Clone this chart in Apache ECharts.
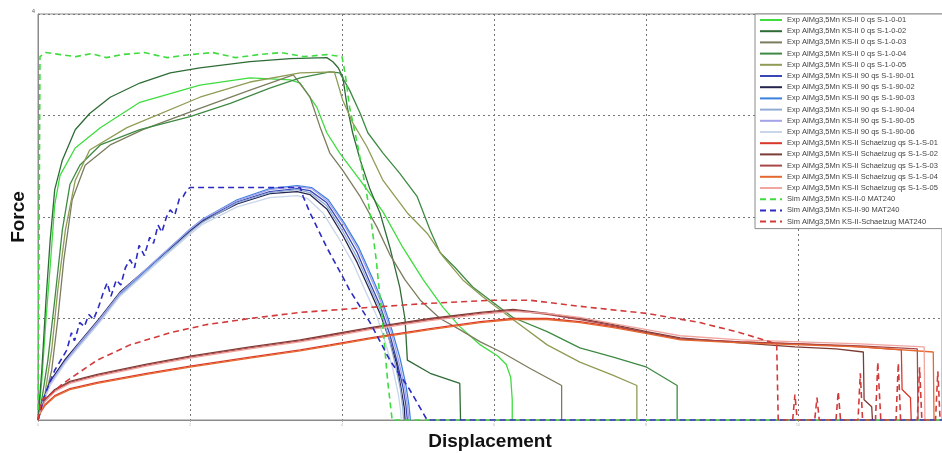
<!DOCTYPE html>
<html>
<head>
<meta charset="utf-8">
<script src="https://cdn.jsdelivr.net/npm/echarts@6/dist/echarts.min.js"></script>
<style>
  html, body { margin: 0; padding: 0; background: #fff; }
  #chart { width: 942px; height: 453px; }
</style>
</head>
<body>
<div id="chart"></div>
<script>
// legend names, in drawing order
const names = [
  'Exp AlMg3,5Mn KS-II 0 qs S-1-0-01',
  'Exp AlMg3,5Mn KS-II 0 qs S-1-0-02',
  'Exp AlMg3,5Mn KS-II 0 qs S-1-0-03',
  'Exp AlMg3,5Mn KS-II 0 qs S-1-0-04',
  'Exp AlMg3,5Mn KS-II 0 qs S-1-0-05',
  'Exp AlMg3,5Mn KS-II 90 qs S-1-90-01',
  'Exp AlMg3,5Mn KS-II 90 qs S-1-90-02',
  'Exp AlMg3,5Mn KS-II 90 qs S-1-90-03',
  'Exp AlMg3,5Mn KS-II 90 qs S-1-90-04',
  'Exp AlMg3,5Mn KS-II 90 qs S-1-90-05',
  'Exp AlMg3,5Mn KS-II 90 qs S-1-90-06',
  'Exp AlMg3,5Mn KS-II Schaelzug qs S-1-S-01',
  'Exp AlMg3,5Mn KS-II Schaelzug qs S-1-S-02',
  'Exp AlMg3,5Mn KS-II Schaelzug qs S-1-S-03',
  'Exp AlMg3,5Mn KS-II Schaelzug qs S-1-S-04',
  'Exp AlMg3,5Mn KS-II Schaelzug qs S-1-S-05',
  'Sim AlMg3,5Mn KS-II-0 MAT240',
  'Sim AlMg3,5Mn KS-II-90 MAT240',
  'Sim AlMg3,5Mn KS-II-Schaelzug MAT240'
];

const colors = [
  '#3fdc3f', '#2e6b35', '#7c7c5e', '#3f8a43', '#8e9c55',
  '#3a46b4', '#25254f', '#3c80de', '#91acd4', '#a3a3ea', '#c9d5ea',
  '#d9382b', '#7b3b36', '#a84848', '#e5682f', '#f0a5a0',
  '#3fdc3f', '#2b2bc4', '#d23a3a'
];

// 0 deg specimens
const exp0_01 = [[0,0],[0.05,0.39],[0.105,0.99],[0.16,1.51],[0.22,2.12],[0.29,2.41],[0.49,2.68],[0.82,2.88],[1.34,3.13],[2.13,3.3],[2.79,3.37],[3.32,3.35],[3.45,3.32],[3.67,3.08],[3.8,2.83],[3.97,2.63],[4.24,2.36],[4.54,2.05],[4.8,1.7],[5.07,1.38],[5.33,1.11],[5.55,0.92],[5.82,0.74],[6.05,0.63],[6.16,0.55],[6.22,0.42],[6.24,0.2],[6.24,0]];
const exp0_02 = [[0,0],[0.05,0.49],[0.105,1.18],[0.16,1.77],[0.22,2.27],[0.32,2.56],[0.49,2.86],[0.68,3.02],[0.95,3.18],[1.34,3.32],[1.74,3.42],[2.13,3.47],[2.79,3.53],[3.32,3.56],[3.8,3.57],[3.88,3.53],[3.95,3.47],[4.01,3.38],[4.07,3.08],[4.14,2.83],[4.24,2.56],[4.37,2.27],[4.5,2.04],[4.63,1.7],[4.76,1.31],[4.83,0.99],[4.86,0.59],[5.16,0.46],[5.55,0.36],[5.56,0]];
const exp0_03 = [[0,0],[0.09,0.2],[0.18,0.49],[0.26,0.99],[0.34,1.58],[0.45,2.17],[0.62,2.51],[0.95,2.71],[1.38,2.86],[2.13,3.07],[2.79,3.25],[3.36,3.4],[3.58,3.18],[3.71,2.89],[3.84,2.63],[4.01,2.46],[4.24,2.2],[4.46,1.9],[4.63,1.63],[4.83,1.38],[5.03,1.18],[5.29,1.0],[5.55,0.89],[5.82,0.77],[6.12,0.66],[6.47,0.51],[6.89,0.34],[6.89,0]];
const exp0_04 = [[0,0],[0.05,0.2],[0.13,0.59],[0.22,1.18],[0.32,1.87],[0.42,2.32],[0.55,2.51],[0.82,2.71],[1.34,2.86],[2.0,2.99],[2.53,3.12],[3.05,3.27],[3.45,3.37],[3.84,3.43],[3.97,3.42],[4.1,3.25],[4.24,3.02],[4.34,2.83],[4.54,2.63],[4.76,2.43],[4.99,2.2],[5.16,1.87],[5.29,1.65],[5.49,1.5],[5.72,1.31],[5.95,1.18],[6.25,1.01],[6.7,0.87],[7.13,0.71],[7.57,0.62],[8.01,0.52],[8.41,0.34],[8.41,0]];
const exp0_05 = [[0,0],[0.09,0.25],[0.18,0.69],[0.26,1.28],[0.36,1.87],[0.49,2.36],[0.68,2.66],[1.17,2.88],[2.13,3.18],[2.79,3.33],[3.45,3.42],[3.9,3.43],[4.01,3.15],[4.14,2.93],[4.33,2.69],[4.54,2.36],[4.86,2.04],[5.12,1.84],[5.33,1.61],[5.59,1.38],[5.86,1.21],[6.25,0.99],[6.7,0.74],[7.13,0.57],[7.57,0.44],[7.88,0.34],[7.88,0]];

// 90 deg specimens
const exp90_01 = [[0,0],[0.05,0.15],[0.16,0.37],[0.36,0.59],[0.55,0.76],[0.82,1.0],[1.08,1.25],[1.57,1.58],[2.0,1.87],[2.17,1.97],[2.62,2.15],[3.05,2.25],[3.41,2.28],[3.58,2.26],[3.8,2.14],[4.01,1.9],[4.2,1.65],[4.37,1.35],[4.5,1.13],[4.63,0.84],[4.72,0.59],[4.8,0.33],[4.84,0.15],[4.86,0]];
const exp90_02 = [[0,0],[0.05,0.16],[0.16,0.38],[0.36,0.6],[0.55,0.77],[0.82,1.01],[1.08,1.26],[1.57,1.58],[2.0,1.86],[2.17,1.96],[2.62,2.13],[3.05,2.23],[3.41,2.25],[3.58,2.22],[3.8,2.08],[4.01,1.82],[4.2,1.55],[4.37,1.27],[4.5,1.05],[4.63,0.78],[4.72,0.55],[4.78,0.3],[4.82,0.12],[4.83,0]];
const exp90_03 = [[0,0],[0.05,0.15],[0.16,0.36],[0.36,0.58],[0.55,0.75],[0.82,0.99],[1.08,1.24],[1.57,1.58],[2.0,1.88],[2.17,1.98],[2.62,2.17],[3.05,2.28],[3.41,2.31],[3.6,2.29],[3.82,2.17],[4.03,1.94],[4.22,1.7],[4.4,1.4],[4.53,1.17],[4.66,0.88],[4.76,0.62],[4.84,0.35],[4.88,0.15],[4.9,0]];
const exp90_04 = [[0,0],[0.05,0.14],[0.16,0.35],[0.36,0.57],[0.55,0.74],[0.82,0.98],[1.08,1.23],[1.57,1.56],[2.0,1.85],[2.17,1.95],[2.62,2.14],[3.05,2.24],[3.41,2.27],[3.58,2.24],[3.8,2.11],[4.01,1.86],[4.2,1.6],[4.37,1.31],[4.5,1.09],[4.62,0.8],[4.7,0.55],[4.77,0.3],[4.8,0.12],[4.81,0]];
const exp90_05 = [[0,0],[0.05,0.15],[0.16,0.36],[0.36,0.58],[0.55,0.76],[0.82,1.0],[1.08,1.25],[1.57,1.59],[2.0,1.88],[2.17,1.98],[2.62,2.16],[3.05,2.27],[3.41,2.3],[3.6,2.28],[3.82,2.15],[4.03,1.92],[4.22,1.67],[4.39,1.38],[4.52,1.15],[4.65,0.86],[4.74,0.6],[4.82,0.34],[4.86,0.15],[4.88,0]];
const exp90_06 = [[0,0],[0.05,0.14],[0.16,0.34],[0.36,0.56],[0.55,0.73],[0.82,0.97],[1.08,1.22],[1.57,1.55],[2.0,1.83],[2.17,1.93],[2.62,2.1],[3.05,2.19],[3.41,2.21],[3.55,2.18],[3.75,2.04],[3.95,1.8],[4.15,1.54],[4.32,1.25],[4.46,1.02],[4.58,0.74],[4.67,0.5],[4.74,0.26],[4.77,0.1],[4.78,0]];

// peel test (Schaelzug) specimens
const expS_01 = [[0,0],[0.03,0.08],[0.09,0.15],[0.22,0.24],[0.42,0.31],[0.78,0.37],[1.43,0.46],[2.0,0.53],[2.79,0.62],[3.45,0.69],[3.84,0.74],[4.37,0.81],[5.16,0.9],[5.82,0.97],[6.25,1.0],[6.7,1.0],[7.13,0.97],[7.57,0.92],[8.01,0.86],[8.45,0.8],[9.24,0.77],[10.03,0.75],[10.82,0.72],[11.36,0.69],[11.37,0.3],[11.48,0.22],[11.49,0]];
const expS_02 = [[0,0],[0.03,0.1],[0.09,0.2],[0.22,0.3],[0.42,0.38],[0.78,0.45],[1.43,0.55],[2.0,0.63],[2.79,0.72],[3.45,0.79],[3.84,0.84],[4.37,0.91],[5.16,1.0],[5.82,1.06],[6.25,1.09],[6.7,1.05],[7.13,1.0],[7.57,0.94],[8.01,0.87],[8.45,0.81],[9.24,0.76],[9.96,0.72],[10.5,0.7],[10.86,0.67],[10.87,0.2],[10.97,0.13],[10.98,0]];
const expS_03 = [[0,0],[0.03,0.09],[0.09,0.19],[0.22,0.29],[0.42,0.37],[0.78,0.44],[1.43,0.54],[2.0,0.62],[2.79,0.71],[3.45,0.78],[3.84,0.83],[4.37,0.9],[5.16,0.99],[5.82,1.05],[6.25,1.08],[6.7,1.04],[7.13,0.99],[7.57,0.93],[8.01,0.86],[8.45,0.8],[9.24,0.77],[10.03,0.75],[10.82,0.73],[11.57,0.7],[11.58,0]];
const expS_04 = [[0,0],[0.03,0.07],[0.09,0.14],[0.22,0.23],[0.42,0.3],[0.78,0.36],[1.43,0.45],[2.0,0.52],[2.79,0.61],[3.45,0.68],[3.84,0.73],[4.37,0.8],[5.16,0.89],[5.82,0.96],[6.25,0.99],[6.7,0.99],[7.13,0.96],[7.57,0.91],[8.01,0.85],[8.45,0.79],[9.24,0.76],[10.03,0.74],[10.82,0.72],[11.78,0.67],[11.79,0]];
const expS_05 = [[0,0],[0.03,0.09],[0.09,0.18],[0.22,0.28],[0.42,0.36],[0.78,0.43],[1.43,0.53],[2.0,0.61],[2.79,0.7],[3.45,0.77],[3.84,0.82],[4.37,0.89],[5.16,0.98],[5.82,1.04],[6.25,1.07],[6.7,1.05],[7.13,1.01],[7.57,0.95],[8.01,0.89],[8.45,0.83],[9.24,0.79],[10.03,0.77],[10.82,0.75],[11.66,0.72],[11.67,0]];

// simulations
const sim0 = [[0,0],[0.01,1.2],[0.026,3.58],[0.1,3.62],[0.3,3.6],[0.5,3.58],[0.7,3.61],[0.9,3.57],[1.1,3.6],[1.4,3.62],[1.7,3.57],[2.0,3.6],[2.3,3.62],[2.6,3.57],[2.9,3.6],[3.2,3.62],[3.5,3.58],[3.8,3.6],[4.0,3.58],[4.04,3.42],[4.1,3.08],[4.2,2.73],[4.3,2.33],[4.37,2.04],[4.45,1.58],[4.53,0.99],[4.6,0.39],[4.66,0],[11.9,0]];
const sim90 = [[0,0],[0.09,0.25],[0.22,0.49],[0.38,0.69],[0.44,0.86],[0.48,0.78],[0.55,0.96],[0.61,0.92],[0.67,1.04],[0.73,0.99],[0.8,1.12],[0.86,1.26],[0.91,1.35],[0.96,1.22],[1.03,1.38],[1.09,1.33],[1.15,1.5],[1.21,1.58],[1.27,1.5],[1.33,1.72],[1.4,1.62],[1.47,1.8],[1.52,1.74],[1.58,1.92],[1.63,1.85],[1.69,2.0],[1.74,2.07],[1.8,2.02],[1.86,2.18],[1.91,2.2],[1.96,2.27],[2.0,2.29],[3.45,2.29],[3.49,2.2],[3.58,2.04],[3.8,1.7],[4.01,1.41],[4.1,1.28],[4.37,0.96],[4.63,0.59],[4.89,0.3],[5.12,0],[11.9,0]];
const simS = [[0,0],[0.05,0.2],[0.16,0.25],[0.33,0.36],[0.78,0.59],[1.21,0.74],[1.74,0.86],[2.22,0.94],[2.79,1.0],[3.45,1.06],[4.37,1.11],[5.16,1.15],[5.99,1.18],[6.47,1.18],[7.13,1.12],[8.01,1.05],[8.71,0.96],[9.24,0.86],[9.63,0.77],[9.72,0.74],[9.74,0],
  [9.93,0],[9.96,0.25],[9.99,0],[10.22,0],[10.25,0.22],[10.28,0],[10.5,0],[10.53,0.28],[10.56,0],[10.79,0],[10.82,0.46],[10.85,0],[11.02,0],[11.05,0.57],[11.09,0],[11.29,0],[11.32,0.56],[11.35,0],[11.57,0],[11.6,0.52],[11.63,0],[11.81,0],[11.84,0.48],[11.87,0]];

const curves = [exp0_01, exp0_02, exp0_03, exp0_04, exp0_05,
  exp90_01, exp90_02, exp90_03, exp90_04, exp90_05, exp90_06,
  expS_01, expS_02, expS_03, expS_04, expS_05,
  sim0, sim90, simS];

const xTicks = [0, 2, 4, 6, 8, 10];
const yTopLabel = 4;

const chart = echarts.init(document.getElementById('chart'));

const series = curves.map((d, i) => {
  const isSim = i >= 16;
  return {
    name: names[i],
    type: 'line',
    data: d,
    symbol: 'none',
    animation: false,
    lineStyle: {
      color: colors[i],
      width: isSim ? 1.6 : 1.3,
      type: isSim ? [6, 4] : 'solid'
    },
    itemStyle: { color: colors[i] }
  };
});

chart.setOption({
  backgroundColor: '#fff',
  animation: false,
  textStyle: { fontFamily: 'Liberation Sans, Arial, sans-serif' },
  grid: {
    left: 38, top: 14, width: 904, height: 406,
    outerBoundsMode: 'none',
    containLabel: false,
    show: true, borderColor: '#8a8a8a', borderWidth: 1
  },
  xAxis: {
    type: 'value',
    min: 0, max: 11.895, interval: 2,
    name: 'Displacement',
    nameLocation: 'middle',
    nameGap: 12,
    nameMoveOverlap: false,
    nameTextStyle: { fontSize: 19, fontWeight: 'bold', color: '#111' },
    axisLine: { show: true, lineStyle: { color: '#8a8a8a' } },
    axisTick: { show: true, length: 2, lineStyle: { color: '#aaa' } },
    axisLabel: {
      fontSize: 4, color: '#bbb', margin: 3,
      formatter: v => xTicks.includes(v) ? String(v) : ''
    },
    splitLine: { show: true, lineStyle: { color: '#777', type: [2, 3], width: 1 } }
  },
  yAxis: {
    type: 'value',
    min: 0, max: 4, interval: 1,
    name: 'Force',
    nameLocation: 'middle',
    nameRotate: 90,
    nameGap: 10,
    nameMoveOverlap: false,
    nameTextStyle: { fontSize: 19, fontWeight: 'bold', color: '#111' },
    axisLine: { show: true, lineStyle: { color: '#8a8a8a' } },
    axisTick: { show: false },
    axisLabel: {
      fontSize: 6, color: '#666', margin: 3, verticalAlign: 'bottom',
      formatter: v => v === yTopLabel ? String(v) : ''
    },
    splitLine: { show: true, lineStyle: { color: '#777', type: [2, 3], width: 1 } }
  },
  legend: {
    orient: 'vertical',
    left: 755, top: 14,
    width: 250,
    padding: [2, 40, 3, 4],
    backgroundColor: '#fff',
    borderColor: '#8a8a8a',
    borderWidth: 1,
    itemWidth: 22, itemHeight: 8, itemGap: 3.2,
    itemStyle: { opacity: 0 },
    textStyle: { fontSize: 7.5, color: '#444', lineHeight: 8 },
    data: names
  },
  series: series
});
</script>
</body>
</html>
